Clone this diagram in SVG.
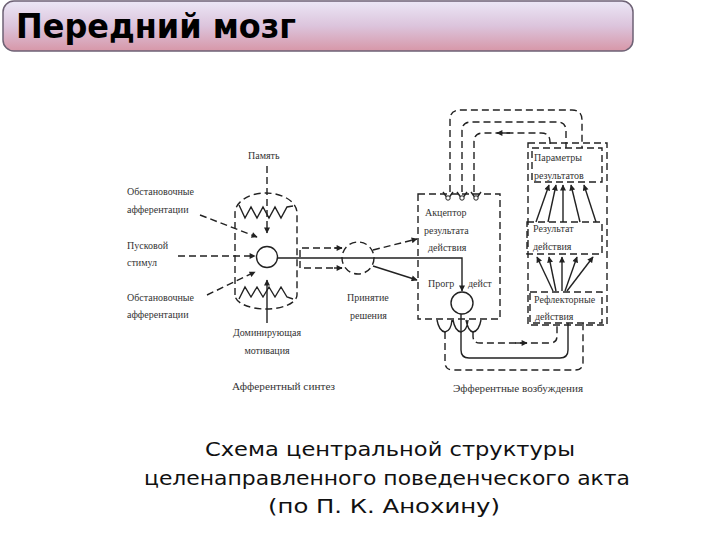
<svg xmlns="http://www.w3.org/2000/svg" width="720" height="540" viewBox="0 0 720 540">
<defs>
  <linearGradient id="tg" x1="0" y1="0" x2="0" y2="1">
    <stop offset="0" stop-color="#ebe7f6"/>
    <stop offset="0.5" stop-color="#dcc4dc"/>
    <stop offset="1" stop-color="#d797a8"/>
  </linearGradient>
  <marker id="ah" viewBox="0 0 10 10" refX="9" refY="5" markerWidth="7" markerHeight="6" orient="auto" markerUnits="userSpaceOnUse">
    <path d="M0 0 L10 5 L0 10 Z" fill="#222"/>
  </marker>
  <style>
    .ln{fill:none;stroke:#222;stroke-width:1.4}
    .ds{fill:none;stroke:#222;stroke-width:1.4;stroke-dasharray:7 4}
    .lb{font-family:"Liberation Serif",serif;font-size:10px;fill:#333}
    .cap{font-family:"DejaVu Sans",sans-serif;font-size:19px;fill:#111}
  </style>
</defs>
<rect width="720" height="540" fill="#fff"/>

<g id="title">
  <rect x="3" y="1" width="630" height="50" rx="11" fill="url(#tg)" stroke="#6e6275" stroke-width="1.5"/>
  <text x="16" y="38" font-family="DejaVu Sans, sans-serif" font-weight="bold" font-size="34" fill="#000" textLength="280" lengthAdjust="spacingAndGlyphs">Передний мозг</text>
</g>

<g id="afferent-synthesis">
  <path class="ds" d="M235 295 V213 A31 20 0 0 1 297 213 V295 A31 14 0 0 1 235 295 Z"/>
  <path class="ln" d="M239 205 L245 218 L251 207 L257 218 L263 207 L269 218 L275 207 L281 218 L287 207 L293 206"/>
  <path class="ln" d="M239 299 L245 287 L251 297 L257 287 L263 297 L269 287 L275 297 L281 287 L287 297 L293 299"/>
  <circle cx="267" cy="257" r="10.5" fill="#fff" stroke="#222" stroke-width="1.4"/>
  <text class="lb" x="232" y="390" textLength="103" lengthAdjust="spacingAndGlyphs">Афферентный синтез</text>
</g>

<g id="memory">
  <text class="lb" x="248" y="159">Память</text>
</g>
<g id="situational-afferent-1">
  <text class="lb" x="127" y="195">Обстановочные</text>
  <text class="lb" x="127" y="213">афферентации</text>
</g>
<g id="trigger-stimulus">
  <text class="lb" x="127" y="249">Пусковой</text>
  <text class="lb" x="127" y="266">стимул</text>
</g>
<g id="situational-afferent-2">
  <text class="lb" x="127" y="301">Обстановочные</text>
  <text class="lb" x="127" y="318">афферентации</text>
</g>
<g id="motivation">
  <text class="lb" x="267" y="336" text-anchor="middle">Доминирующая</text>
  <text class="lb" x="267" y="354" text-anchor="middle">мотивация</text>
</g>

<g id="decision">
  <circle cx="358" cy="258" r="16" class="ds" stroke-dasharray="6 3"/>
  <text class="lb" x="347" y="301">Принятие</text>
  <text class="lb" x="350" y="319">решения</text>
</g>

<g id="acceptor">
  <rect x="418" y="194" width="82" height="125" class="ds"/>
  <text class="lb" x="425" y="216">Акцептор</text>
  <text class="lb" x="424" y="234">результата</text>
  <text class="lb" x="428" y="251">действия</text>
  <text class="lb" x="428" y="287">Прогр</text>
  <text class="lb" x="468" y="287">дейст</text>
  <circle cx="462" cy="303" r="11" fill="#fff" stroke="#222" stroke-width="1.4"/>
  <path class="ln" d="M443 192 L448 199 L453 192 M457 192 L462 199 L467 192 M471 192 L476 199 L481 192"/>
  <circle cx="448" cy="198" r="2.2" fill="#fff" stroke="#222"/>
  <circle cx="462" cy="198" r="2.2" fill="#fff" stroke="#222"/>
  <circle cx="476" cy="198" r="2.2" fill="#fff" stroke="#222"/>
  <path class="ln" d="M437 320 Q439 331 445 332 Q451 331 452 320 M453 320 Q455 331 461 332 Q467 331 468 320 M466 320 Q468 331 473 332 Q479 331 481 320"/>
</g>

<g id="results-column">
  <rect x="528" y="143" width="79" height="182" class="ds"/>
</g>
<g id="result-parameters">
  <rect x="532" y="148" width="70" height="34" class="ds"/>
  <text class="lb" x="534" y="161">Параметры</text>
  <text class="lb" x="534" y="179">результатов</text>
</g>
<g id="action-result">
  <rect x="527" y="222" width="75" height="32" class="ds"/>
  <text class="lb" x="533" y="232">Результат</text>
  <text class="lb" x="533" y="250">действия</text>
</g>
<g id="reflex-actions">
  <rect x="530" y="292" width="72" height="31" class="ds"/>
  <text class="lb" x="534" y="303">Рефлекторные</text>
  <text class="lb" x="535" y="320">действия</text>
</g>
<g id="efferent">
  <text class="lb" x="453" y="392" textLength="130" lengthAdjust="spacingAndGlyphs">Эфферентные возбуждения</text>
</g>

<g id="connectors">
  <path class="ds" d="M267 166 V233" marker-end="url(#ah)"/>
  <path class="ln" d="M267 323 V280" marker-end="url(#ah)"/>
  <path class="ds" d="M200 215 L257 237" marker-end="url(#ah)"/>
  <path class="ds" d="M178 256 L255 256" marker-end="url(#ah)"/>
  <path class="ds" d="M207 295 L255 272" marker-end="url(#ah)"/>
  <path class="ds" d="M342 248 H300 V268 H342" />
  <path class="ln" d="M334 248 H342" marker-end="url(#ah)"/>
  <path class="ln" d="M334 268 H342" marker-end="url(#ah)"/>
  <path class="ln" d="M278 258 H462 V291" marker-end="url(#ah)"/>
  <path class="ds" d="M373 250 L417 239" marker-end="url(#ah)"/>
  <path class="ln" d="M373 266 L417 280" marker-end="url(#ah)"/>
  <path class="ds" d="M450 192 V120 Q450 110 460 110 H572 Q582 110 582 120 V148"/>
  <path class="ds" d="M462 192 V131 Q462 122 471 122 H557 Q566 122 566 131 V148"/>
  <path class="ds" d="M474 192 V142 Q474 133 483 133 H541 Q550 133 550 142 V148"/>
  <path class="ln" d="M510 133 H497" marker-end="url(#ah)"/>
  <path class="ln" d="M536 222 L549 185" marker-end="url(#ah)"/>
  <path class="ln" d="M548 222 L556 185" marker-end="url(#ah)"/>
  <path class="ln" d="M563 222 L563 185" marker-end="url(#ah)"/>
  <path class="ln" d="M580 222 L571 185" marker-end="url(#ah)"/>
  <path class="ln" d="M596 222 L584 185" marker-end="url(#ah)"/>
  <path class="ln" d="M553 291 L537 257" marker-end="url(#ah)"/>
  <path class="ln" d="M556 291 L549 257" marker-end="url(#ah)"/>
  <path class="ln" d="M562 291 L562 257" marker-end="url(#ah)"/>
  <path class="ln" d="M565 291 L577 257" marker-end="url(#ah)"/>
  <path class="ln" d="M567 291 L593 257" marker-end="url(#ah)"/>
  <path class="ds" d="M445 332 V362 Q445 370 453 370 H575 Q583 370 583 362 V323"/>
  <path class="ln" d="M461 314 V350 Q461 358 469 358 H560 Q568 358 568 350 V323"/>
  <path class="ds" d="M473 332 V336 Q473 343 480 343 H550 Q557 343 557 336 V323"/>
  <path class="ln" d="M515 343 H527" marker-end="url(#ah)"/>
</g>

<g id="caption">
  <text class="cap" x="390" y="456" text-anchor="middle" textLength="370" lengthAdjust="spacingAndGlyphs">Схема центральной структуры</text>
  <text class="cap" x="387" y="485" text-anchor="middle" textLength="486" lengthAdjust="spacingAndGlyphs">целенаправленного поведенческого акта</text>
  <text class="cap" x="384" y="513" text-anchor="middle" textLength="232" lengthAdjust="spacingAndGlyphs">(по П. К. Анохину)</text>
</g>
</svg>
